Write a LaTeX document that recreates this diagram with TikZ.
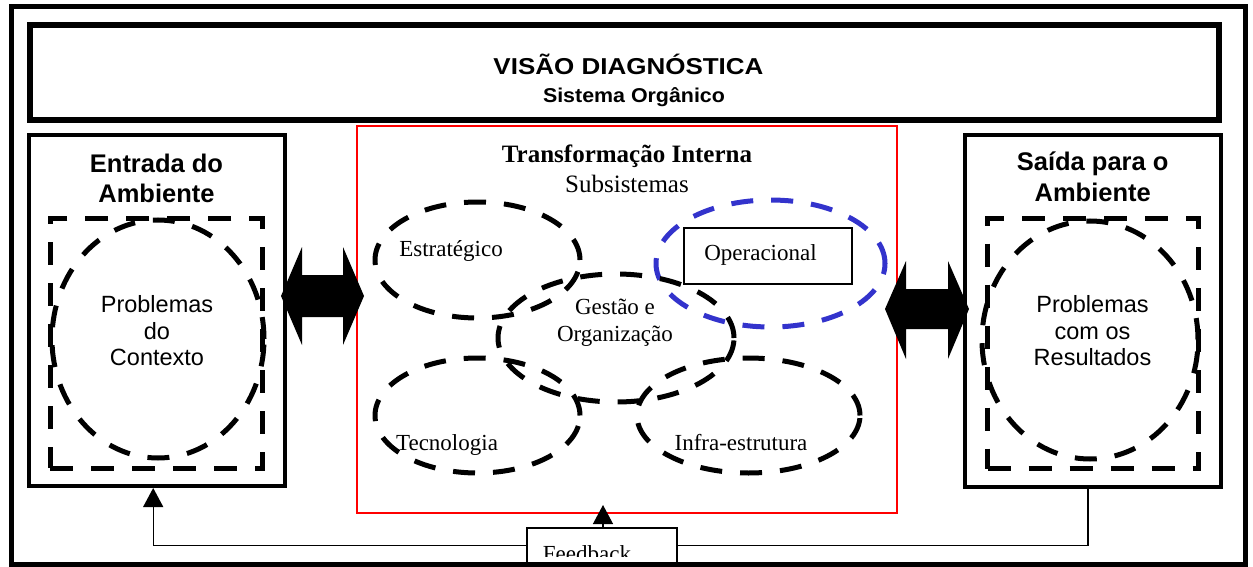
\documentclass[tikz,border=0pt]{standalone}
\usepackage{fontspec}
\setmainfont{Liberation Serif}
\newfontfamily\arialfont{Liberation Sans}
\usetikzlibrary{arrows.meta,shapes.geometric}
\definecolor{opblue}{RGB}{51,51,204}
\definecolor{redline}{RGB}{255,0,0}
\begin{document}
\begin{tikzpicture}[x=1pt,y=-1pt,
  framebox/.style={draw=black,line width=4pt,minimum width=#1,inner sep=0pt,outer sep=0pt},
  dashrect/.style={draw=black,line width=5pt,dash pattern=on 23pt off 18pt,inner sep=0pt,outer sep=0pt},
  dashell/.style={ellipse,draw=#1,line width=5pt,dash pattern=on 22pt off 18pt,inner sep=0pt,outer sep=0pt},
  dashell/.default=black,
  thinline/.style={draw=black,line width=1.3pt},
  sanslabel/.style={font=\arialfont\fontsize{23.5}{26.5}\selectfont,anchor=base,inner sep=0pt},
  sanshead/.style={font=\arialfont\bfseries\fontsize{25.5}{30}\selectfont,anchor=base,inner sep=0pt},
  seriflabel/.style={font=\fontsize{23}{27}\selectfont,anchor=base,inner sep=0pt},
  blockarrow/.style={fill=black},
  tip/.style={-{Triangle[length=19pt,width=20pt]}}
]
\useasboundingbox (0,0) rectangle (1253,567);
% title box
\node[draw=black,line width=6pt,minimum width=1188.7pt,minimum height=94.2pt,inner sep=0pt] (title) at (624.65,72.6) {};
\node[font=\arialfont\bfseries\fontsize{23}{27}\selectfont,anchor=base,inner sep=0pt] (t1) at (628.5,75) {\scalebox{1.13}[1]{VISÃO DIAGNÓSTICA}};
\node[font=\arialfont\bfseries\fontsize{20}{24}\selectfont,anchor=base,inner sep=0pt] (t2) at (634,103) {\scalebox{1.07}[1]{Sistema Orgânico}};
% left box
\node[framebox=256pt,minimum height=350.7pt] (entrada) at (156.7,310.65) {};
\node[sanshead] (e1) at (156.5,172) {Entrada do};
\node[sanshead] (e2) at (156.5,202) {Ambiente};
\node[dashrect,minimum width=211.7pt,minimum height=249.7pt] (erect) at (156.15,343.15) {};
\node[dashell,minimum width=212pt,minimum height=238pt] (ecirc) at (158,339) {};
\node[sanslabel] (p1) at (157,312.7) {Problemas};
\node[sanslabel] (p2) at (157,339) {do};
\node[sanslabel] (p3) at (157,365.7) {Contexto};
% right box
\node[framebox=256.6pt,minimum height=351.7pt] (saida) at (1093,311.15) {};
\node[sanshead] (s1) at (1092.7,171) {Saída para o};
\node[sanshead] (s2) at (1092.7,201) {Ambiente};
\node[dashrect,minimum width=211pt,minimum height=250pt] (srect) at (1093,343.5) {};
\node[dashell,minimum width=216pt,minimum height=238pt] (scirc) at (1090,340) {};
\node[sanslabel] (r1) at (1092.5,312.7) {Problemas};
\node[sanslabel] (r2) at (1092.5,339.3) {com os};
\node[sanslabel] (r3) at (1092.5,365.7) {Resultados};
% red box
\node[draw=redline,line width=1.8pt,minimum width=540pt,minimum height=387pt,inner sep=0pt] (transf) at (627,319.5) {};
\node[font=\bfseries\fontsize{25}{29}\selectfont,anchor=base,inner sep=0pt] (tr1) at (627,162) {Transformação Interna};
\node[font=\fontsize{25}{29}\selectfont,anchor=base,inner sep=0pt] (tr2) at (627,192) {Subsistemas};
% subsystems
\node[dashell,minimum width=205pt,minimum height=116pt] (estr) at (477.5,260) {};
\node[dashell=opblue,minimum width=229pt,minimum height=127pt] (oper) at (770.5,263.5) {};
\node[dashell,minimum width=236pt,minimum height=128pt] (gest) at (616,338) {};
\node[dashell,minimum width=205pt,minimum height=115pt] (tecn) at (477.5,415.5) {};
\node[dashell,minimum width=223pt,minimum height=115pt] (infra) at (748.5,415.5) {};
\node[thinline,minimum width=168pt,minimum height=56pt,inner sep=0pt] (opbox) at (768,256) {};
\node[seriflabel] (lestr) at (451,256) {Estratégico};
\node[seriflabel] (loper) at (760.5,260) {Operacional};
\node[seriflabel] (lgest1) at (615,314) {Gestão e};
\node[seriflabel] (lgest2) at (615,341) {Organização};
\node[seriflabel] (ltecn) at (447,450) {Tecnologia};
\node[seriflabel] (linfra) at (741,450) {Infra-estrutura};
% block double arrows
\fill[blockarrow] (281,296) -- (302,247) -- (302,275) -- (343,275) -- (343,247) -- (364,296)
  -- (343,345) -- (343,317) -- (302,317) -- (302,345) -- cycle;
\fill[blockarrow] (885,309) -- (906,261) -- (906,289) -- (948,289) -- (948,261) -- (969,309)
  -- (948,359) -- (948,329) -- (906,329) -- (906,359) -- cycle;
% feedback loop
\coordinate (fbl) at (0,545.5);
\coordinate (eS) at ([xshift=-3.5pt]entrada.south);
\coordinate (sS) at ([xshift=-5pt]saida.south);
\draw[thinline,tip] (sS) |- (eS |- fbl) -- ([yshift=-2pt]eS);
\node[thinline,fill=white,minimum width=150pt,minimum height=47pt,inner sep=0pt] (fb) at (602,551.5) {};
\begin{scope}
\clip (520,530) rectangle (680,556);
\node[seriflabel] (lfb) at (587,561) {Feedback};
\end{scope}
\coordinate (fbtip) at (603,505);
\draw[thinline,tip] (fbtip |- fb.north) -- (fbtip);
% outer frame (drawn last, over the feedback box)
\draw[line width=5pt] (11.75,6.75) rectangle (1245,564.2);
\end{tikzpicture}
\end{document}
